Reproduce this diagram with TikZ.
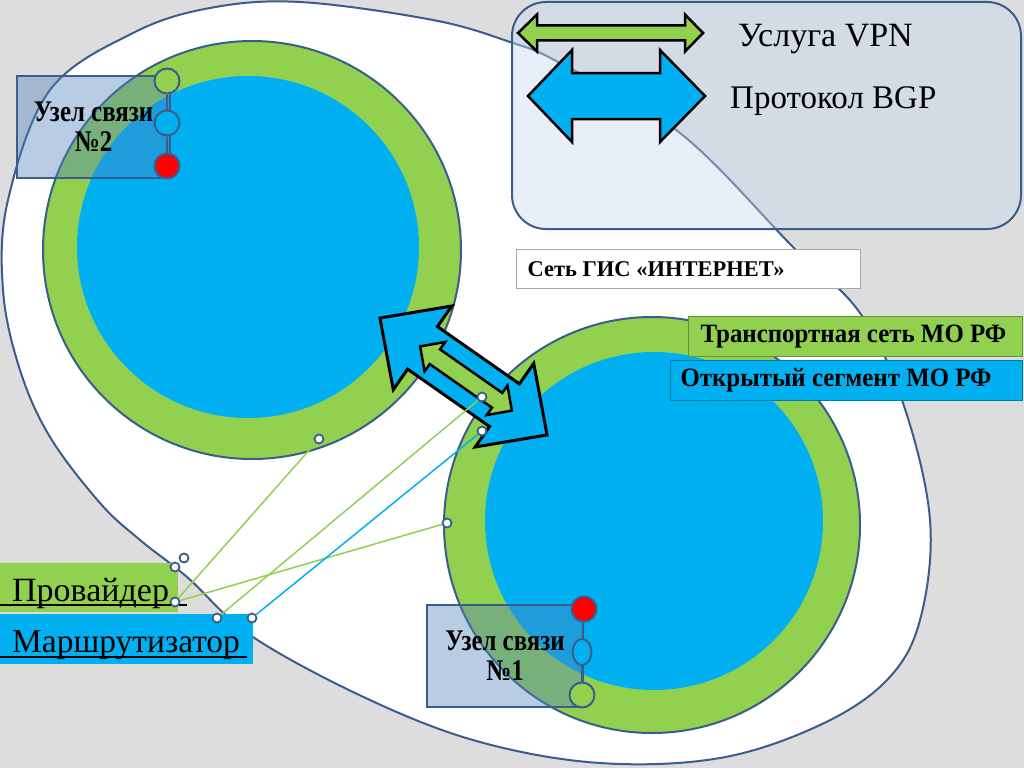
\documentclass[tikz,border=0pt]{standalone}
\usepackage{fontspec}
\setmainfont{Liberation Serif}
\newfontfamily\narrowser[FakeStretch=0.83]{Liberation Serif}
\newfontfamily\semiser[FakeStretch=0.94]{Liberation Serif}
\usetikzlibrary{shapes.geometric}
\definecolor{bgc}{HTML}{DDDDDD}
\definecolor{outl}{HTML}{3A5D8B}
\definecolor{grn}{HTML}{92D050}
\definecolor{blu}{HTML}{00B0F0}
\definecolor{boxc}{HTML}{4F81BD}
\definecolor{legc}{HTML}{C6D9F1}
\begin{document}
\begin{tikzpicture}[x=1pt,y=-1pt,
  ring/.style={draw=outl, line width=2pt, fill=grn},
  core/.style={fill=blu},
  uzbox/.style={draw=outl, line width=2pt, fill=boxc, fill opacity=0.4, text opacity=1,
    align=center, font=\narrowser\bfseries\fontsize{30}{30}\selectfont, inner sep=0pt},
  dot/.style={circle, draw=outl, line width=2pt, minimum size=25pt, inner sep=0pt},
  conn/.style={circle, draw=outl, fill=white, line width=1.8pt, minimum size=9pt, inner sep=0pt},
  gline/.style={grn, line width=1.5pt},
  bline/.style={blu, line width=1.5pt},
  arr/.style={draw=black, line join=miter},
  lab/.style={anchor=north west, minimum height=40pt, inner ysep=0pt,
    font=\semiser\bfseries\fontsize{26.5}{28}\selectfont},
  big/.style={inner sep=0pt}
]
\useasboundingbox (0,0) rectangle (1024,768);
\fill[bgc] (0,0) rectangle (1024,768);

% outer blob (GIS Internet)
\draw[outl, line width=2pt, fill=white] plot[smooth cycle, tension=0.6] coordinates {
  (300,2) (433,20) (510,42) (560,63) (680,133) (793,247) (860,313) (903,403)
  (930,520) (920,620) (887,680) (820,725) (720,758) (600,763) (480,742) (370,700)
  (253,637) (187,577) (140,540) (100,503) (50,437) (20,370) (3,290) (8,200)
  (50,90) (133,33) (210,8)};

% two networks
\draw[ring] (252,250) circle[radius=209];
\fill[core] (248,247) circle[radius=171];
\draw[ring] (652,525) circle[radius=208];
\fill[core] (654,521) circle[radius=169];

% central arrows
\begin{scope}[shift={(463.5,376.5)}, rotate=-35]
  \draw[arr, fill=blu, line width=3pt] (-102,0) -- (-50,-51) -- (-50,-26) -- (50,-26) -- (50,-51)
    -- (102,0) -- (50,51) -- (50,26) -- (-50,26) -- (-50,51) -- cycle;
\end{scope}
\begin{scope}[shift={(466,378.5)}, rotate=-35]
  \draw[arr, fill=grn, line width=2.5pt] (-56,0) -- (-38,-18) -- (-38,-9) -- (38,-9) -- (38,-18)
    -- (56,0) -- (38,18) -- (38,9) -- (-38,9) -- (-38,18) -- cycle;
\end{scope}

% nodes (Узел связи)
\node[uzbox, minimum width=153pt, minimum height=102pt] (u2) at (93.5,127) {Узел связи\\№2};
\node[dot, fill=grn] (u2a) at (167,81) {};
\node[dot, fill=blu] (u2b) at (167,123) {};
\node[dot, fill=red] (u2c) at (167,166) {};
\draw[outl, line width=2pt] (u2a) -- (u2b) (u2b) -- (u2c);

\node[uzbox, minimum width=156pt, minimum height=102pt] (u1) at (505,656) {Узел связи\\№1};
\node[dot, fill=red] (u1a) at (584,609) {};
\node[ellipse, draw=outl, line width=2pt, inner sep=0pt, fill=blu, minimum width=19pt, minimum height=26pt] (u1b) at (582,652) {};
\node[dot, fill=grn] (u1c) at (582,695) {};
\draw[outl, line width=2pt] (u1a) -- (u1b) (u1b) -- (u1c);

% legend labels bottom-left
\fill[grn] (0,563) rectangle (178,612);
\node[anchor=base west, font=\fontsize{34}{36}\selectfont, inner sep=0pt] (prov) at (12,601) {Провайдер};
\draw[black, line width=2.5pt] (0,605) -- (187,605);
\fill[blu] (0,614) rectangle (253,664);
\node[anchor=base west, font=\fontsize{33.5}{36}\selectfont, inner sep=0pt] (mars) at (12,652) {Маршрутизатор};
\draw[black, line width=2.5pt] (0,657) -- (247,657);

% connection points
\node[conn] (pr) at (175,602) {};
\node[conn] (pa) at (175,567) {};
\node[conn] (pb) at (184,558) {};
\node[conn] (m1) at (217,618) {};
\node[conn] (m2) at (252,618) {};
\node[conn] (c2) at (319,439) {};
\node[conn] (c1) at (447,523) {};
\node[conn] (a1) at (482,397) {};
\node[conn] (a2) at (482,431) {};
\draw[gline] (pr) -- (c2);
\draw[gline] (pr) -- (c1);
\draw[gline] (m1) -- (a1);
\draw[bline] (m2) -- (a2);

% text labels
\node[lab, draw=gray!70, fill=white, line width=1pt, minimum height=39pt, inner xsep=11pt,
  font=\bfseries\fontsize{22.5}{26}\selectfont] (gis) at (516,249) {\makebox[322pt][l]{Сеть ГИС «ИНТЕРНЕТ»}};
\node[lab, draw=grn!70!black, fill=grn, line width=1pt, inner xsep=12pt] (tr) at (688,316) {\makebox[310pt][l]{Транспортная сеть МО РФ}};
\node[lab, draw=blu!70!black, fill=blu, line width=1pt, inner xsep=10pt] (os) at (670,360) {\makebox[332pt][l]{Открытый сегмент МО РФ}};

% legend box
\draw[outl, line width=2pt, fill=legc, fill opacity=0.4, rounded corners=34pt] (512,2) rectangle (1021,229);
\draw[arr, fill=grn, line width=2.5pt] (518,33) -- (537,14.5) -- (537,25.5) -- (685,25.5) -- (685,14.5)
  -- (703,33) -- (685,51.5) -- (685,40.5) -- (537,40.5) -- (537,51.5) -- cycle;
\draw[arr, fill=blu, line width=2.5pt] (528,96) -- (572,50) -- (572,73) -- (660,73) -- (660,50)
  -- (705,96) -- (660,142) -- (660,119) -- (572,119) -- (572,142) -- cycle;
\node[big, anchor=base west, font=\fontsize{34}{36}\selectfont] (vpn) at (738,47) {Услуга VPN};
\node[big, anchor=base west, font=\fontsize{33}{36}\selectfont] (bgp) at (730,108) {Протокол BGP};
\end{tikzpicture}
\end{document}
